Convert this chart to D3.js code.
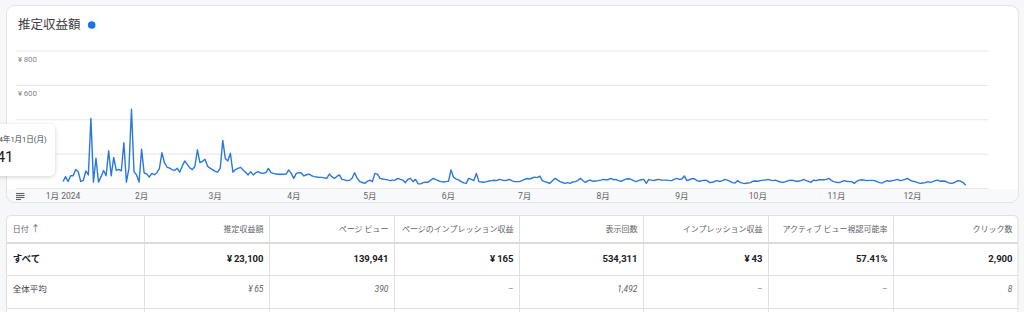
<!DOCTYPE html>
<html>
<head>
<meta charset="utf-8">
<script src="https://cdn.jsdelivr.net/npm/d3@7"></script>
<style>
html, body { margin: 0; padding: 0; background: #f6f7f9; }
svg { display: block; font-family: Roboto, "Noto Sans CJK JP", sans-serif; }
</style>
</head>
<body>
<div id="chart"></div>
<script>
// daily estimated revenue (yen), 2024-01-01 .. 2024-12-22
const jan = [41, 69, 41, 74, 74, 111, 98, 41, 47, 102, 79, 408, 37, 176, 37, 69, 105, 74, 220, 74, 181, 105, 111, 103, 266, 37, 117, 462, 98, 79, 37];
const feb = [228, 90, 85, 66, 88, 80, 92, 115, 208, 150, 125, 118, 110, 105, 118, 95, 130, 160, 140, 120, 110, 128, 225, 150, 158, 170, 130, 118, 110];
const mar = [100, 95, 118, 280, 175, 160, 205, 95, 110, 117, 123, 108, 95, 79, 98, 79, 92, 98, 90, 88, 92, 117, 92, 88, 84, 83, 83, 83, 84, 108, 88];
const apr = [59, 88, 92, 90, 73, 80, 84, 75, 69, 67, 65, 65, 62, 59, 84, 69, 59, 70, 79, 53, 50, 46, 48, 60, 92, 60, 40, 35, 30, 42];
const may = [49, 40, 88, 84, 59, 55, 53, 50, 46, 49, 49, 59, 53, 49, 34, 53, 59, 40, 53, 28, 27, 34, 36, 36, 49, 59, 52, 46, 40, 38, 40];
const jun = [42, 108, 66, 55, 50, 40, 33, 30, 59, 53, 46, 88, 40, 38, 36, 40, 44, 46, 48, 46, 53, 50, 46, 48, 53, 46, 40, 40, 40, 46];
const jul = [53, 58, 55, 61, 66, 63, 72, 46, 40, 35, 30, 45, 59, 50, 40, 35, 30, 34, 30, 38, 40, 46, 59, 45, 36, 46, 49, 42, 44, 46, 49];
const aug = [53, 51, 51, 59, 51, 53, 46, 42, 49, 55, 57, 53, 46, 40, 46, 51, 53, 30, 53, 49, 46, 51, 53, 49, 49, 49, 47, 46, 53, 59, 53];
const sep = [55, 73, 46, 51, 57, 57, 46, 42, 46, 49, 46, 34, 36, 42, 46, 40, 46, 53, 49, 42, 34, 32, 46, 36, 31, 29, 32, 34, 42, 44];
const oct = [42, 46, 49, 49, 53, 49, 46, 49, 42, 38, 36, 40, 46, 49, 47, 42, 42, 46, 53, 46, 42, 36, 49, 46, 51, 51, 51, 53, 59, 46, 40];
const nov = [36, 34, 40, 46, 42, 40, 40, 30, 42, 49, 51, 49, 46, 47, 47, 46, 40, 34, 32, 40, 46, 42, 46, 49, 53, 46, 49, 53, 59, 49];
const dec = [42, 40, 34, 30, 32, 34, 40, 36, 40, 46, 49, 42, 44, 42, 34, 30, 32, 38, 46, 42, 34, 19];

const yTicks = [0, 200, 400, 600, 800];

const headers = ['日付', '推定収益額', 'ページ ビュー', 'ページのインプレッション収益', '表示回数', 'インプレッション収益', 'アクティブ ビュー視認可能率', 'クリック数'];
const totals = ['すべて', '¥\u200923,100', '139,941', '¥\u2009165', '534,311', '¥\u200943', '57.41%', '2,900'];
const averages = ['全体平均', '¥\u200965', '390', '–', '1,492', '–', '–', '8'];

const width = 1024;
const height = 312;

const svg = d3.select('#chart')
    .append('svg')
    .attr('width', width)
    .attr('height', height);

const defs = svg.append('defs');
const shadow = defs.append('filter').attr('id', 'shadow')
    .attr('x', '-30%').attr('y', '-30%').attr('width', '160%').attr('height', '160%');
shadow.append('feDropShadow')
    .attr('dx', 0).attr('dy', 1).attr('stdDeviation', 2)
    .attr('flood-color', '#000').attr('flood-opacity', 0.18);

const start = new Date(2024, 0, 1);
const daily = [].concat(jan, feb, mar, apr, may, jun, jul, aug, sep, oct, nov, dec);
const data = daily.map((v, i) => ({date: d3.timeDay.offset(start, i), value: v}));

const x = d3.scaleTime()
    .domain([start, new Date(2025, 0, 1)])
    .range([63, 63 + 2.536 * 366]);

const y = d3.scaleLinear()
    .domain([0, 800])
    .range([188.5, 51]);

// card
svg.append('rect')
    .attr('x', 6.5).attr('y', 5.5)
    .attr('width', 1012).attr('height', 197)
    .attr('rx', 8)
    .attr('fill', '#fff');

svg.append('rect')
    .attr('x', 7).attr('y', 189)
    .attr('width', 1011).attr('height', 12.5)
    .attr('fill', '#f8f9fa');

svg.append('rect')
    .attr('x', 6.5).attr('y', 5.5)
    .attr('width', 1012).attr('height', 197)
    .attr('rx', 8)
    .attr('fill', 'none')
    .attr('stroke', '#e3e3e3');

// title
svg.append('text')
    .attr('x', 18).attr('y', 29)
    .attr('font-size', '12.5px')
    .attr('fill', '#3c4043')
    .text('推定収益額');

svg.append('circle')
    .attr('cx', 91.7).attr('cy', 25)
    .attr('r', 3.8)
    .attr('fill', '#1a73e8');

// grid
svg.append('g')
    .selectAll('line')
    .data(yTicks)
    .join('line')
    .attr('x1', 16).attr('x2', 988)
    .attr('y1', d => y(d)).attr('y2', d => y(d))
    .attr('stroke', '#e6e7e9')
    .attr('stroke-width', 1);

svg.append('g')
    .selectAll('text')
    .data(yTicks.filter(d => d > 0))
    .join('text')
    .attr('x', 18)
    .attr('y', d => y(d) + 10.5)
    .attr('font-size', '7.8px')
    .attr('fill', '#80868b')
    .text(d => '¥\u2009' + d);

// line
const line = d3.line()
    .x(d => x(d.date))
    .y(d => y(d.value));

svg.append('path')
    .datum(data)
    .attr('fill', 'none')
    .attr('stroke', '#2a78dc')
    .attr('stroke-width', 1.4)
    .attr('stroke-linejoin', 'round')
    .attr('d', line);

// x axis labels
const months = x.ticks(d3.timeMonth.every(1)).filter(d => d.getFullYear() === 2024);
svg.append('g')
    .selectAll('text')
    .data(months)
    .join('text')
    .attr('x', d => x(d))
    .attr('y', 199)
    .attr('text-anchor', 'middle')
    .attr('font-size', '8.5px')
    .attr('fill', '#5f6368')
    .text(d => d.getMonth() === 0 ? '1月 2024' : (d.getMonth() + 1) + '月');

// notes icon
const icon = svg.append('g').attr('stroke', '#5f6368').attr('stroke-width', 1.1);
[193.5, 195.5, 197.5, 199.5].forEach((yy, i) => {
    icon.append('line')
        .attr('x1', 16).attr('x2', i === 3 ? 21 : 24.5)
        .attr('y1', yy).attr('y2', yy);
});

// tooltip
svg.append('rect')
    .attr('x', -20).attr('y', 124)
    .attr('width', 75).attr('height', 52)
    .attr('rx', 6)
    .attr('fill', '#fff')
    .attr('filter', 'url(#shadow)');

svg.append('text')
    .attr('x', 46.5).attr('y', 141.5)
    .attr('text-anchor', 'end')
    .attr('font-size', '7.5px')
    .attr('fill', '#3c4043')
    .text('2024年1月1日(月)');

svg.append('text')
    .attr('x', 13.5).attr('y', 162)
    .attr('text-anchor', 'end')
    .attr('font-size', '15px')
    .attr('fill', '#202124')
    .text('¥' + data[0].value);

// table
const cols = [6, 144, 269, 394, 519, 643, 768, 893, 1018];

svg.append('rect')
    .attr('x', 6.5).attr('y', 215.5)
    .attr('width', 1011.5).attr('height', 110)
    .attr('rx', 4)
    .attr('fill', '#fff')
    .attr('stroke', '#e0e0e0');

svg.append('g')
    .selectAll('line')
    .data(cols.slice(1, -1))
    .join('line')
    .attr('x1', d => d + 0.5).attr('x2', d => d + 0.5)
    .attr('y1', 216).attr('y2', height)
    .attr('stroke', '#e0e0e0');

svg.append('line')
    .attr('x1', 7).attr('x2', 1018)
    .attr('y1', 243).attr('y2', 243)
    .attr('stroke', '#dadce0').attr('stroke-width', 2);

[275.5, 308.5].forEach(yy => {
    svg.append('line')
        .attr('x1', 7).attr('x2', 1018)
        .attr('y1', yy).attr('y2', yy)
        .attr('stroke', '#e0e0e0');
});

function cellX(i) {
    return i === 0 ? 12.7 : cols[i + 1] - 5.5;
}

svg.append('g')
    .selectAll('text')
    .data(headers)
    .join('text')
    .attr('x', (d, i) => cellX(i))
    .attr('y', 231.5)
    .attr('text-anchor', (d, i) => i === 0 ? 'start' : 'end')
    .attr('font-size', '8px')
    .attr('fill', '#5f6368')
    .text(d => d);

svg.append('text')
    .attr('x', 35.5).attr('y', 232)
    .attr('text-anchor', 'middle')
    .attr('font-size', '9px')
    .attr('fill', '#5f6368')
    .text('↑');

svg.append('g')
    .selectAll('text')
    .data(totals)
    .join('text')
    .attr('x', (d, i) => cellX(i))
    .attr('y', 262)
    .attr('text-anchor', (d, i) => i === 0 ? 'start' : 'end')
    .attr('font-size', '9.5px')
    .attr('font-weight', 'bold')
    .attr('fill', '#202124')
    .text(d => d);

svg.append('g')
    .selectAll('text')
    .data(averages)
    .join('text')
    .attr('x', (d, i) => cellX(i))
    .attr('y', 292)
    .attr('text-anchor', (d, i) => i === 0 ? 'start' : 'end')
    .attr('font-size', '8.5px')
    .attr('font-style', (d, i) => i === 0 ? 'normal' : 'italic')
    .attr('fill', (d, i) => i === 0 ? '#3c4043' : '#5f6368')
    .text(d => d);
</script>
</body>
</html>
